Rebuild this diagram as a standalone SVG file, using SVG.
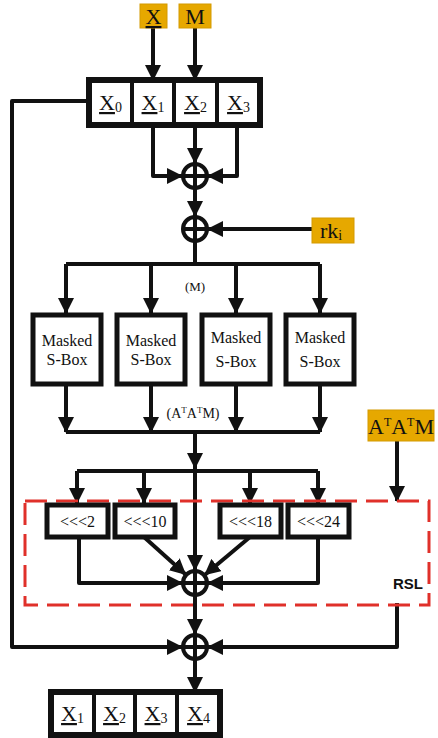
<svg xmlns="http://www.w3.org/2000/svg" width="438" height="738" viewBox="0 0 438 738">
<defs>
<marker id="ah" markerUnits="userSpaceOnUse" markerWidth="16" markerHeight="16" viewBox="0 0 16 16" refX="15" refY="8" orient="auto">
<path d="M0,0 L16,8 L0,16 Z" fill="#111"/>
</marker>
</defs>
<style>
.ln{fill:none;stroke:#111;stroke-width:4;stroke-linejoin:round}
.arr{fill:none;stroke:#111;stroke-width:4;stroke-linejoin:round;marker-end:url(#ah)}
.cell{fill:#fff;stroke:#111;stroke-width:4}
.box{fill:#fff;stroke:#111;stroke-width:5}
.gold{fill:#e6a800;stroke:#d49a00;stroke-width:1}
.xor{fill:#fff;stroke:#111;stroke-width:4}
.t{font-family:"Liberation Serif","Times New Roman",serif;fill:#111;text-anchor:middle}
.reg{font-size:22px}
.sub{font-size:14px}
.sb{font-size:16px}
.rsl{font-family:"Liberation Sans",Arial,sans-serif;font-weight:bold;font-size:15px;fill:#111;text-anchor:middle}
</style>
<g id="connectors">
<line class="arr" x1="153" y1="28" x2="153" y2="80"/>
<line class="arr" x1="195" y1="28" x2="195" y2="80"/>
<path class="arr" d="M153,125 V176 H182"/>
<path class="arr" d="M237,125 V176 H208"/>
<path class="arr" d="M195,125 V163"/>
<path class="arr" d="M195,189 V216"/>
<path class="arr" d="M312,229 H208"/>
<path class="ln" d="M195,242 V264 M66,264 H320"/>
<path class="arr" d="M66,264 V313"/>
<path class="arr" d="M151,264 V313"/>
<path class="arr" d="M236,264 V313"/>
<path class="arr" d="M320,264 V313"/>
<path class="arr" d="M66,385 V432"/>
<path class="arr" d="M151,385 V432"/>
<path class="arr" d="M236,385 V432"/>
<path class="arr" d="M320,385 V432"/>
<path class="ln" d="M66,432 H320"/>
<path class="arr" d="M195,432 V468"/>
<path class="ln" d="M77,471 H318"/>
<path class="arr" d="M77,471 V503"/>
<path class="arr" d="M144,471 V503"/>
<path class="arr" d="M250,471 V503"/>
<path class="arr" d="M318,471 V503"/>
<path class="arr" d="M195,467 V570"/>
<path class="arr" d="M79,537 V583 H182"/>
<path class="arr" d="M144,537 L185.4,574.3"/>
<path class="arr" d="M250,537 L205,574.7"/>
<path class="arr" d="M318,537 V583 H208"/>
<path class="arr" d="M195,596 V634"/>
<path class="arr" d="M89,101 H12 V647 H182"/>
<path class="arr" d="M397,603 V647 H208"/>
<path class="arr" d="M397,441 V501"/>
<path class="arr" d="M195,660 V692"/>
</g>
<g id="rsl">
<rect x="25" y="501" width="404" height="104" fill="none" stroke="#e0302a" stroke-width="3" stroke-dasharray="22 9"/>
<text class="rsl" x="408" y="589">RSL</text>
</g>
<g id="inX">
<rect class="gold" x="140" y="4" width="27" height="24"/>
<text class="t reg" x="153.5" y="24"><tspan text-decoration="underline">X</tspan></text>
</g>
<g id="inM">
<rect class="gold" x="179" y="4" width="32" height="24"/>
<text class="t reg" x="195" y="24">M</text>
</g>
<g id="regTop">
<rect class="cell" x="89" y="80" width="43" height="45"/>
<rect class="cell" x="132" y="80" width="42" height="45"/>
<rect class="cell" x="174" y="80" width="43" height="45"/>
<rect class="cell" x="217" y="80" width="43" height="45"/>
<rect x="89" y="80" width="171" height="45" fill="none" stroke="#111" stroke-width="6"/>
<text class="t reg" x="110.5" y="110"><tspan text-decoration="underline">X</tspan><tspan class="sub" dy="2">0</tspan></text>
<text class="t reg" x="153" y="110"><tspan text-decoration="underline">X</tspan><tspan class="sub" dy="2">1</tspan></text>
<text class="t reg" x="195.5" y="110"><tspan text-decoration="underline">X</tspan><tspan class="sub" dy="2">2</tspan></text>
<text class="t reg" x="238.5" y="110"><tspan text-decoration="underline">X</tspan><tspan class="sub" dy="2">3</tspan></text>
</g>
<g id="xor1"><circle class="xor" cx="195" cy="176" r="12"/><path class="ln" d="M183,176 H207 M195,164 V188" stroke-width="3"/></g>
<g id="xor2"><circle class="xor" cx="195" cy="229" r="12"/><path class="ln" d="M183,229 H207 M195,217 V241" stroke-width="3"/></g>
<g id="rk">
<rect class="gold" x="312" y="218" width="42" height="25"/>
<text class="t reg" x="331" y="238">rk<tspan class="sub" dy="2">i</tspan></text>
</g>
<text class="t" x="195" y="291" font-size="13">(M)</text>
<g id="sbox1"><rect class="box" x="33" y="315" width="68" height="69"/><text class="t sb" x="67" y="346">Masked</text><text class="t sb" x="67" y="365">S-Box</text></g>
<g id="sbox2"><rect class="box" x="117" y="315" width="68" height="69"/><text class="t sb" x="151" y="346">Masked</text><text class="t sb" x="151" y="365">S-Box</text></g>
<g id="sbox3"><rect class="box" x="202" y="315" width="68" height="69"/><text class="t sb" x="236" y="343">Masked</text><text class="t sb" x="236" y="367">S-Box</text></g>
<g id="sbox4"><rect class="box" x="286" y="315" width="68" height="69"/><text class="t sb" x="320" y="343">Masked</text><text class="t sb" x="320" y="367">S-Box</text></g>
<text class="t" x="193" y="418" font-size="14">(A<tspan font-size="9" dy="-5">T</tspan><tspan dy="5">A</tspan><tspan font-size="9" dy="-5">T</tspan><tspan dy="5">M)</tspan></text>
<g id="atatm">
<rect class="gold" x="368" y="410" width="66" height="31"/>
<text class="t reg" x="401" y="434">A<tspan font-size="12" dy="-8">T</tspan><tspan dy="8">A</tspan><tspan font-size="12" dy="-8">T</tspan><tspan dy="8">M</tspan></text>
</g>
<g id="rot2"><rect class="box" x="47" y="505" width="61" height="32"/><text class="t sb" x="77.5" y="527">&lt;&lt;&lt;2</text></g>
<g id="rot10"><rect class="box" x="115" y="505" width="60" height="32"/><text class="t sb" x="145" y="527">&lt;&lt;&lt;10</text></g>
<g id="rot18"><rect class="box" x="220" y="505" width="61" height="32"/><text class="t sb" x="250.5" y="527">&lt;&lt;&lt;18</text></g>
<g id="rot24"><rect class="box" x="288" y="505" width="61" height="32"/><text class="t sb" x="318.5" y="527">&lt;&lt;&lt;24</text></g>
<g id="xor3"><circle class="xor" cx="195" cy="583" r="12"/><path class="ln" d="M183,583 H207 M195,571 V595" stroke-width="3"/></g>
<g id="xor4"><circle class="xor" cx="195" cy="647" r="12"/><path class="ln" d="M183,647 H207 M195,635 V659" stroke-width="3"/></g>
<g id="regBot">
<rect class="cell" x="51" y="692" width="43" height="43"/>
<rect class="cell" x="94" y="692" width="41" height="43"/>
<rect class="cell" x="135" y="692" width="42" height="43"/>
<rect class="cell" x="177" y="692" width="43" height="43"/>
<rect x="51" y="692" width="169" height="43" fill="none" stroke="#111" stroke-width="6"/>
<text class="t reg" x="72.5" y="721"><tspan text-decoration="underline">X</tspan><tspan class="sub" dy="2">1</tspan></text>
<text class="t reg" x="114.5" y="721"><tspan text-decoration="underline">X</tspan><tspan class="sub" dy="2">2</tspan></text>
<text class="t reg" x="156" y="721"><tspan text-decoration="underline">X</tspan><tspan class="sub" dy="2">3</tspan></text>
<text class="t reg" x="198.5" y="721"><tspan text-decoration="underline">X</tspan><tspan class="sub" dy="2">4</tspan></text>
</g>
</svg>
